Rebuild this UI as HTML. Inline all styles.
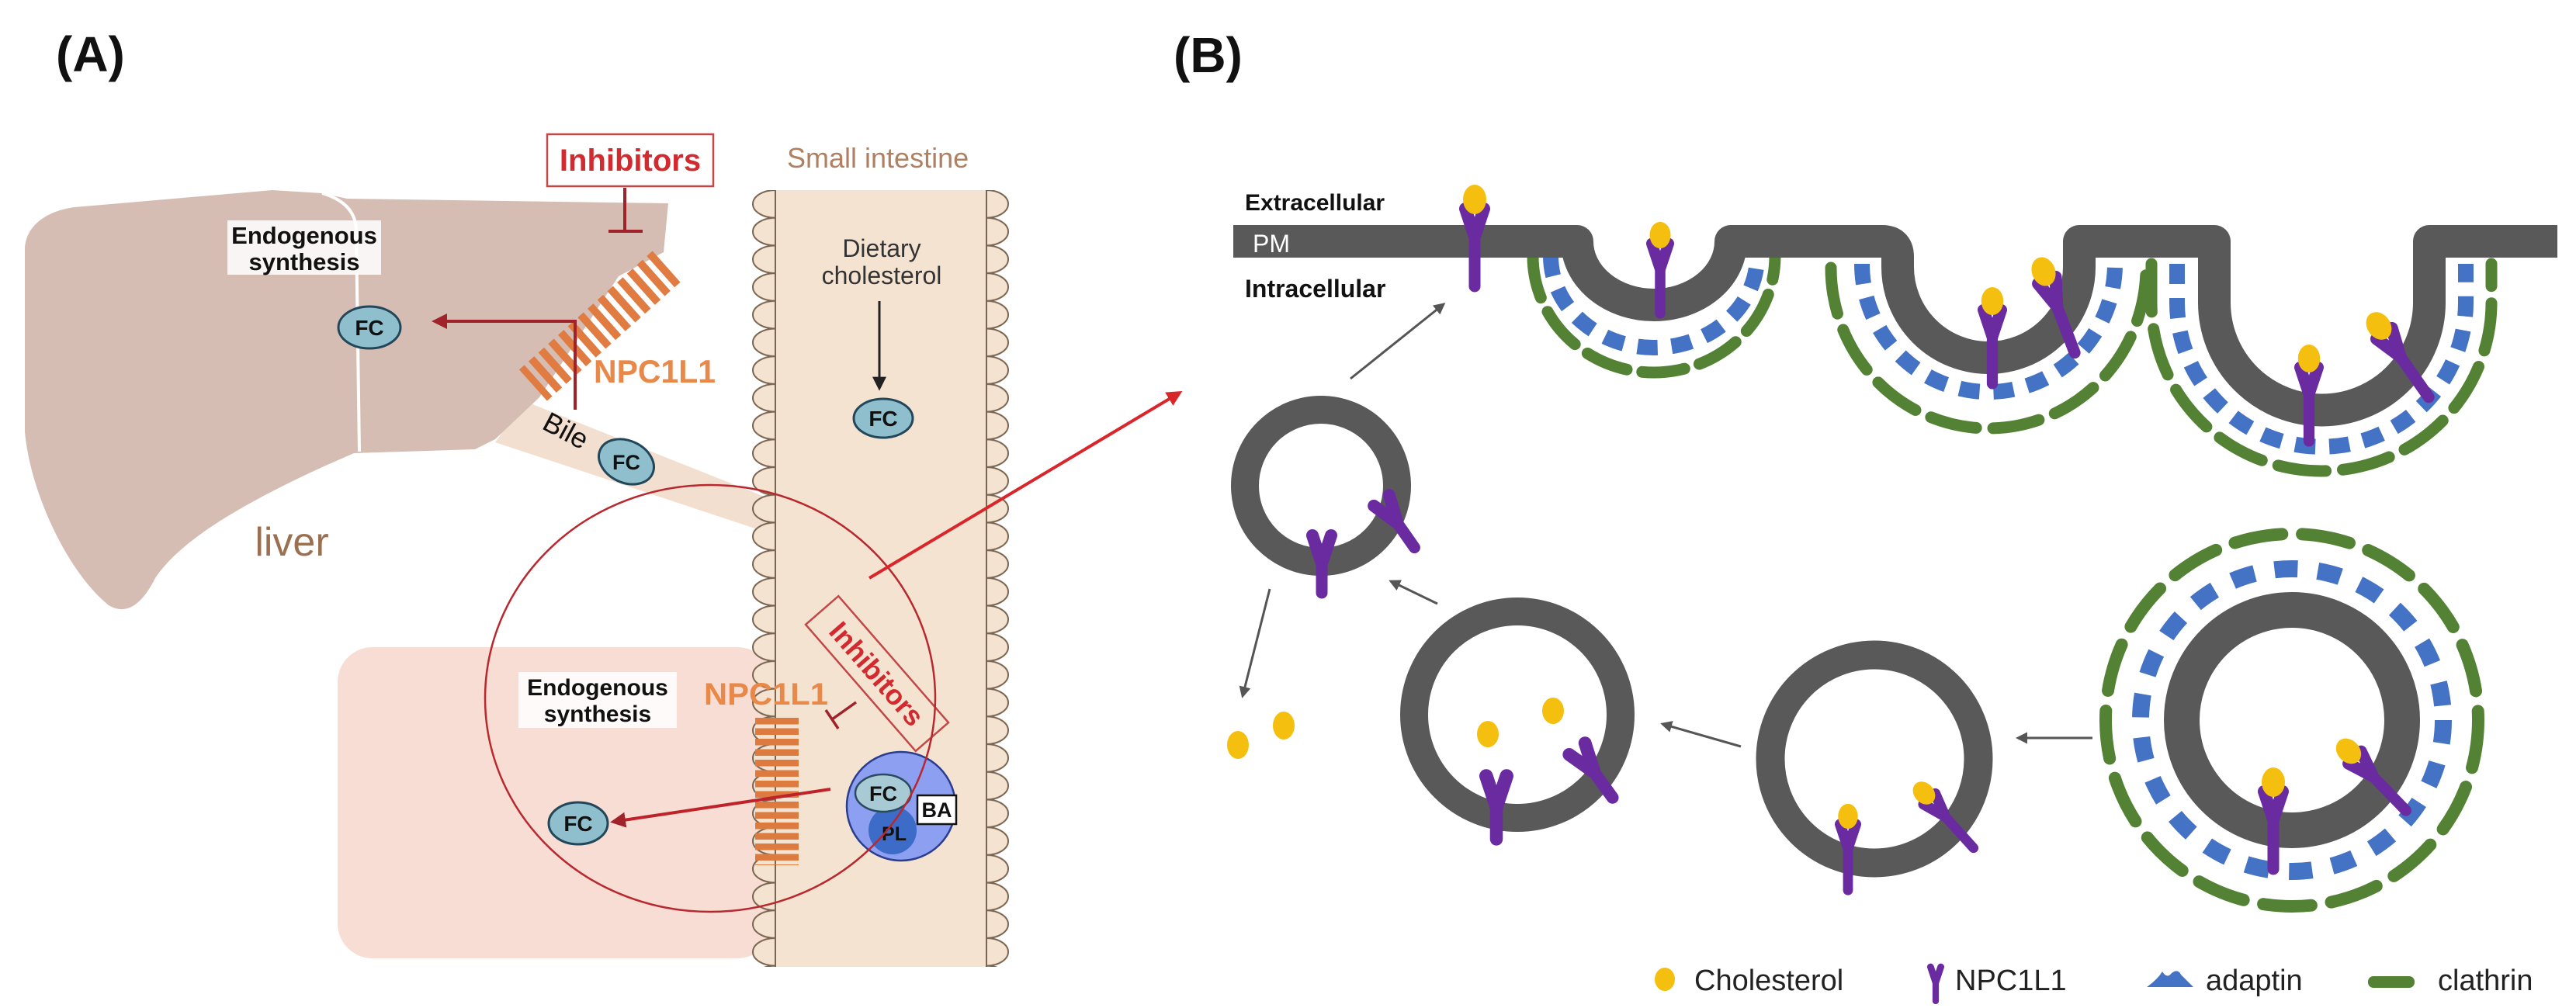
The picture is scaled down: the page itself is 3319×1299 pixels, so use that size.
<!DOCTYPE html>
<html><head><meta charset="utf-8"><style>
html,body{margin:0;padding:0;background:#fff;}
svg{display:block;}
text{font-family:"Liberation Sans",Arial,sans-serif;}
</style></head><body>
<svg width="3319" height="1299" viewBox="0 0 3319 1299" xmlns="http://www.w3.org/2000/svg">
<defs>
<pattern id="villiL" patternUnits="userSpaceOnUse" x="941" y="245" width="60" height="35.7">
<path d="M58,0 A29,17.85 0 0 0 58,35.7 Z" fill="#f5e3d2" stroke="#7a6550" stroke-width="2"/>
</pattern>
<pattern id="villiR" patternUnits="userSpaceOnUse" x="1270" y="245" width="60" height="35.7">
<path d="M1,0 A28,17.85 0 0 1 1,35.7 Z" fill="#f5e3d2" stroke="#7a6550" stroke-width="2"/>
</pattern>
<pattern id="stripesV" patternUnits="userSpaceOnUse" width="17" height="60">
<rect x="0" y="0" width="10" height="60" fill="#e07c42"/>
</pattern>
<pattern id="stripesH" patternUnits="userSpaceOnUse" x="0" y="925" width="60" height="13.5">
<rect x="0" y="0" width="60" height="8.5" fill="#dc7a40"/>
</pattern>
<marker id="arR" viewBox="0 0 10 10" refX="8" refY="5" markerWidth="5" markerHeight="5" orient="auto"><path d="M0,0 L10,5 L0,10 z" fill="#d9262b"/></marker>
<marker id="arDR" viewBox="0 0 10 10" refX="8" refY="5" markerWidth="5" markerHeight="5" orient="auto"><path d="M0,0 L10,5 L0,10 z" fill="#a0222a"/></marker>
<marker id="arK" viewBox="0 0 10 10" refX="8" refY="5" markerWidth="6" markerHeight="6" orient="auto"><path d="M0,0 L10,5 L0,10 z" fill="#222"/></marker>
<marker id="arG" viewBox="0 0 10 10" refX="8" refY="5" markerWidth="5" markerHeight="5" orient="auto"><path d="M0,0 L10,5 L0,10 z" fill="#555"/></marker>
<g id="npc">
<path d="M-12,12 L0,48 L12,12" fill="none" stroke="#6a2aa0" stroke-width="16" stroke-linecap="round" stroke-linejoin="round"/>
<path d="M0,40 L0,112" stroke="#6a2aa0" stroke-width="15" stroke-linecap="round"/>
<ellipse cx="0" cy="0" rx="15" ry="19" fill="#f5bf0f"/>
</g>
<g id="npc0">
<path d="M-12,0 L0,36 L12,0" fill="none" stroke="#6a2aa0" stroke-width="16" stroke-linecap="round" stroke-linejoin="round"/>
<path d="M0,28 L0,74" stroke="#6a2aa0" stroke-width="15" stroke-linecap="round"/>
</g>
</defs>

<!-- ===== Panel A ===== -->
<text x="72" y="92" font-size="64" font-weight="bold" fill="#111">(A)</text>

<!-- bile band -->
<polygon points="676,517 1000,646 1000,690 638,570" fill="#f2dfcf"/>
<!-- lower pink region -->
<rect x="435" y="834" width="560" height="401" rx="45" fill="#f7ddd3"/>
<!-- liver -->
<path d="M96,267 C60,272 34,290 32,320 L32,557 C40,640 90,740 140,780 C165,795 185,775 200,745 C230,700 300,655 415,602 L456,584 L612,579 L638,566 L695,512 L797,356 L855,325 L861,262 L447,256 L415,249 L351,245 Z" fill="#d6bdb4"/>
<path d="M415,249 Q460,262 459,300 L463,582" fill="none" stroke="#fff" stroke-width="4"/>

<!-- intestine -->
<rect x="995" y="245" width="278" height="1001" fill="#f5e3d2"/>
<rect x="941" y="245" width="60" height="1001" fill="url(#villiL)"/>
<rect x="1270" y="245" width="60" height="1001" fill="url(#villiR)"/>
<text x="1014" y="216" font-size="36" fill="#b08062">Small intestine</text>
<text x="1136" y="331" font-size="32" fill="#333" text-anchor="middle">Dietary</text>
<text x="1136" y="366" font-size="32" fill="#333" text-anchor="middle">cholesterol</text>
<line x1="1133" y1="388" x2="1133" y2="500" stroke="#222" stroke-width="3" marker-end="url(#arK)"/>
<ellipse cx="1138" cy="539" rx="38" ry="25" fill="#8fbfcc" stroke="#23475a" stroke-width="3"/>
<text x="1138" y="549" font-size="28" font-weight="bold" fill="#111" text-anchor="middle">FC</text>

<!-- liver content -->
<rect x="705" y="173" width="214" height="67" fill="#fff" stroke="#c24848" stroke-width="2.5"/>
<text x="812" y="220" font-size="40" font-weight="bold" fill="#d22a2e" text-anchor="middle">Inhibitors</text>
<path d="M805,242 L805,298 M784,298 L828,298" stroke="#a0222a" stroke-width="4" fill="none"/>
<rect x="293" y="284" width="198" height="70" fill="#fff" opacity="0.85"/>
<text x="392" y="314" font-size="31" font-weight="bold" fill="#111" text-anchor="middle">Endogenous</text>
<text x="392" y="348" font-size="31" font-weight="bold" fill="#111" text-anchor="middle">synthesis</text>
<g transform="translate(775,418) rotate(-41.7)">
<rect x="-118" y="-27" width="236" height="54" fill="url(#stripesV)"/>
</g>
<path d="M741,528 L741,414 L560,414" stroke="#a0222a" stroke-width="4" fill="none" marker-end="url(#arDR)"/>
<ellipse cx="476" cy="422" rx="40" ry="27" fill="#8fbfcc" stroke="#23475a" stroke-width="3"/>
<text x="476" y="432" font-size="28" font-weight="bold" fill="#111" text-anchor="middle">FC</text>
<text x="765" y="493" font-size="42" font-weight="bold" fill="#e8894a" textLength="157" lengthAdjust="spacingAndGlyphs">NPC1L1</text>
<text x="728" y="567" font-size="36" fill="#111" transform="rotate(28 728 557)" text-anchor="middle">Bile</text>
<ellipse cx="807" cy="595" rx="37" ry="27" fill="#8fbfcc" stroke="#23475a" stroke-width="3" transform="rotate(25 807 595)"/>
<text x="807" y="605" font-size="27" font-weight="bold" fill="#111" text-anchor="middle">FC</text>
<text x="376" y="716" font-size="52" fill="#9b7050" text-anchor="middle">liver</text>

<!-- lower intestine cell content -->
<rect x="668" y="866" width="204" height="72" fill="#fff" opacity="0.85"/>
<text x="770" y="896" font-size="30" font-weight="bold" fill="#111" text-anchor="middle">Endogenous</text>
<text x="770" y="930" font-size="30" font-weight="bold" fill="#111" text-anchor="middle">synthesis</text>
<text x="907" y="908" font-size="40" font-weight="bold" fill="#e8894a" textLength="160" lengthAdjust="spacingAndGlyphs">NPC1L1</text>
<rect x="973" y="925" width="56" height="190" fill="url(#stripesH)"/>
<ellipse cx="745" cy="1061" rx="38" ry="27" fill="#8fbfcc" stroke="#23475a" stroke-width="3"/>
<text x="745" y="1071" font-size="28" font-weight="bold" fill="#111" text-anchor="middle">FC</text>
<line x1="1070" y1="1017" x2="790" y2="1059" stroke="#c0222a" stroke-width="4" marker-end="url(#arDR)"/>
<path d="M1103,905 L1072,927 M1064,915 L1080,939" stroke="#a0222a" stroke-width="3.5" fill="none"/>
<g transform="translate(1130,868) rotate(49)">
<rect x="-108" y="-28" width="216" height="56" fill="none" stroke="#c24848" stroke-width="2.5"/>
<text x="0" y="13" font-size="36" font-weight="bold" fill="#d22a2e" text-anchor="middle">Inhibitors</text>
</g>
<!-- micelle -->
<circle cx="1161" cy="1039" r="70" fill="#8d9ff0" stroke="#2a3d8f" stroke-width="2.5"/>
<circle cx="1150" cy="1070" r="31" fill="#3d6bc8"/>
<ellipse cx="1138" cy="1022" rx="36" ry="24" fill="#a8cad4" stroke="#2a4a60" stroke-width="2.5"/>
<text x="1138" y="1032" font-size="27" font-weight="bold" fill="#111" text-anchor="middle">FC</text>
<text x="1152" y="1083" font-size="25" font-weight="bold" fill="#111" text-anchor="middle">PL</text>
<rect x="1182" y="1025" width="50" height="37" fill="#fff" stroke="#111" stroke-width="2.5"/>
<text x="1207" y="1053" font-size="27" font-weight="bold" fill="#111" text-anchor="middle">BA</text>
<!-- zoom circle and arrow -->
<ellipse cx="915" cy="900" rx="290" ry="275" fill="none" stroke="#b8282e" stroke-width="2.5"/>
<line x1="1120" y1="745" x2="1520" y2="506" stroke="#d9262b" stroke-width="4" marker-end="url(#arR)"/>

<!-- ===== Panel B ===== -->
<text x="1512" y="93" font-size="64" font-weight="bold" fill="#111">(B)</text>
<text x="1604" y="271" font-size="30" font-weight="bold" fill="#111">Extracellular</text>
<text x="1604" y="383" font-size="32" font-weight="bold" fill="#111">Intracellular</text>

<!-- coats for pits -->
<path d="M1998,330 A133,118 0 0 0 2264,330" fill="none" stroke="#4472c4" stroke-width="20" stroke-dasharray="26 18"/>
<path d="M1975,330 A156,150 0 0 0 2287,330" fill="none" stroke="#548235" stroke-width="15" stroke-dasharray="55 20" stroke-linecap="round"/>
<path d="M2399,340 A163,165 0 0 0 2725,340" fill="none" stroke="#4472c4" stroke-width="20" stroke-dasharray="26 18"/>
<path d="M2359,345 A203,207 0 0 0 2765,345" fill="none" stroke="#548235" stroke-width="15" stroke-dasharray="60 22" stroke-linecap="round"/>
<path d="M2805,340 L2805,390 A186,186 0 0 0 3177,390 L3177,340" fill="none" stroke="#4472c4" stroke-width="20" stroke-dasharray="26 18"/>
<path d="M2772,340 L2772,390 A219,217 0 0 0 3210,390 L3210,340" fill="none" stroke="#548235" stroke-width="15" stroke-dasharray="62 22" stroke-linecap="round"/>

<!-- plasma membrane -->
<path d="M1589,311 H2032 A99,82 0 0 0 2230,311 H2425 Q2445,311 2445,331 L2445,344 A117,117 0 0 0 2679,344 L2679,311 H2853 L2853,390 A138.5,138.5 0 0 0 3130,390 L3130,311 H3295" fill="none" stroke="#595959" stroke-width="42" stroke-linejoin="round"/>
<text x="1614" y="325" font-size="32" fill="#fff">PM</text>

<!-- NPC1L1 in membrane/pits -->
<use href="#npc" transform="translate(1900,257)"/>
<use href="#npc" transform="translate(2139,303) scale(0.9)"/>
<use href="#npc" transform="translate(2567,388) scale(0.95)"/>
<use href="#npc" transform="translate(2633,350) rotate(-21)"/>
<use href="#npc" transform="translate(2975,462) scale(0.95)"/>
<use href="#npc" transform="translate(3065,420) rotate(-35)"/>

<!-- vesicles -->
<circle cx="1702" cy="626" r="98" fill="none" stroke="#595959" stroke-width="36"/>
<use href="#npc0" transform="translate(1703,690)"/>
<use href="#npc0" transform="translate(1780,645) rotate(-35)"/>

<circle cx="1955" cy="921" r="133" fill="none" stroke="#595959" stroke-width="36"/>
<ellipse cx="1917" cy="946" rx="14" ry="17" fill="#f5bf0f"/>
<ellipse cx="2001" cy="916" rx="14" ry="17" fill="#f5bf0f"/>
<use href="#npc0" transform="translate(1928,1000) scale(1.1)"/>
<use href="#npc0" transform="translate(2032,965) rotate(-36) scale(1.05)"/>

<circle cx="2415" cy="978" r="134" fill="none" stroke="#595959" stroke-width="37"/>
<use href="#npc" transform="translate(2381,1052) scale(0.85)"/>
<use href="#npc" transform="translate(2479,1022) rotate(-42) scale(0.85)"/>

<circle cx="2953" cy="928" r="195" fill="none" stroke="#4472c4" stroke-width="22" stroke-dasharray="30 26"/>
<circle cx="2953" cy="928" r="240" fill="none" stroke="#548235" stroke-width="16" stroke-dasharray="62 26" stroke-linecap="round"/>
<circle cx="2953" cy="928" r="142" fill="none" stroke="#595959" stroke-width="46"/>
<use href="#npc" transform="translate(2929,1008)"/>
<use href="#npc" transform="translate(3026,968) rotate(-44) scale(0.95)"/>

<ellipse cx="1595" cy="960" rx="14" ry="18" fill="#f5bf0f"/>
<ellipse cx="1654" cy="935" rx="14" ry="18" fill="#f5bf0f"/>

<!-- grey arrows -->
<g stroke="#555" stroke-width="3" fill="none" marker-end="url(#arG)">
<line x1="1740" y1="488" x2="1860" y2="392"/>
<line x1="1636" y1="759" x2="1601" y2="897"/>
<line x1="1852" y1="778" x2="1792" y2="749"/>
<line x1="2243" y1="962" x2="2142" y2="933"/>
<line x1="2696" y1="951" x2="2600" y2="951"/>
</g>

<!-- legend -->
<ellipse cx="2145" cy="1262" rx="13" ry="15" fill="#f5bf0f"/>
<text x="2183" y="1276" font-size="38" fill="#222">Cholesterol</text>
<g transform="translate(2494,1246) scale(0.55)">
<path d="M-12,0 L0,36 L12,0" fill="none" stroke="#6a2aa0" stroke-width="16" stroke-linecap="round" stroke-linejoin="round"/>
<path d="M0,28 L0,80" stroke="#6a2aa0" stroke-width="15" stroke-linecap="round"/>
</g>
<text x="2519" y="1276" font-size="38" fill="#222">NPC1L1</text>
<path d="M2766,1272 Q2780,1262 2786,1252 Q2792,1262 2798,1254 Q2806,1248 2810,1256 Q2818,1264 2826,1272 Z" fill="#4472c4"/>
<text x="2842" y="1276" font-size="38" fill="#222">adaptin</text>
<rect x="3051" y="1258" width="60" height="15" rx="7" fill="#548235"/>
<text x="3141" y="1276" font-size="38" fill="#222">clathrin</text>
</svg>
</body></html>
